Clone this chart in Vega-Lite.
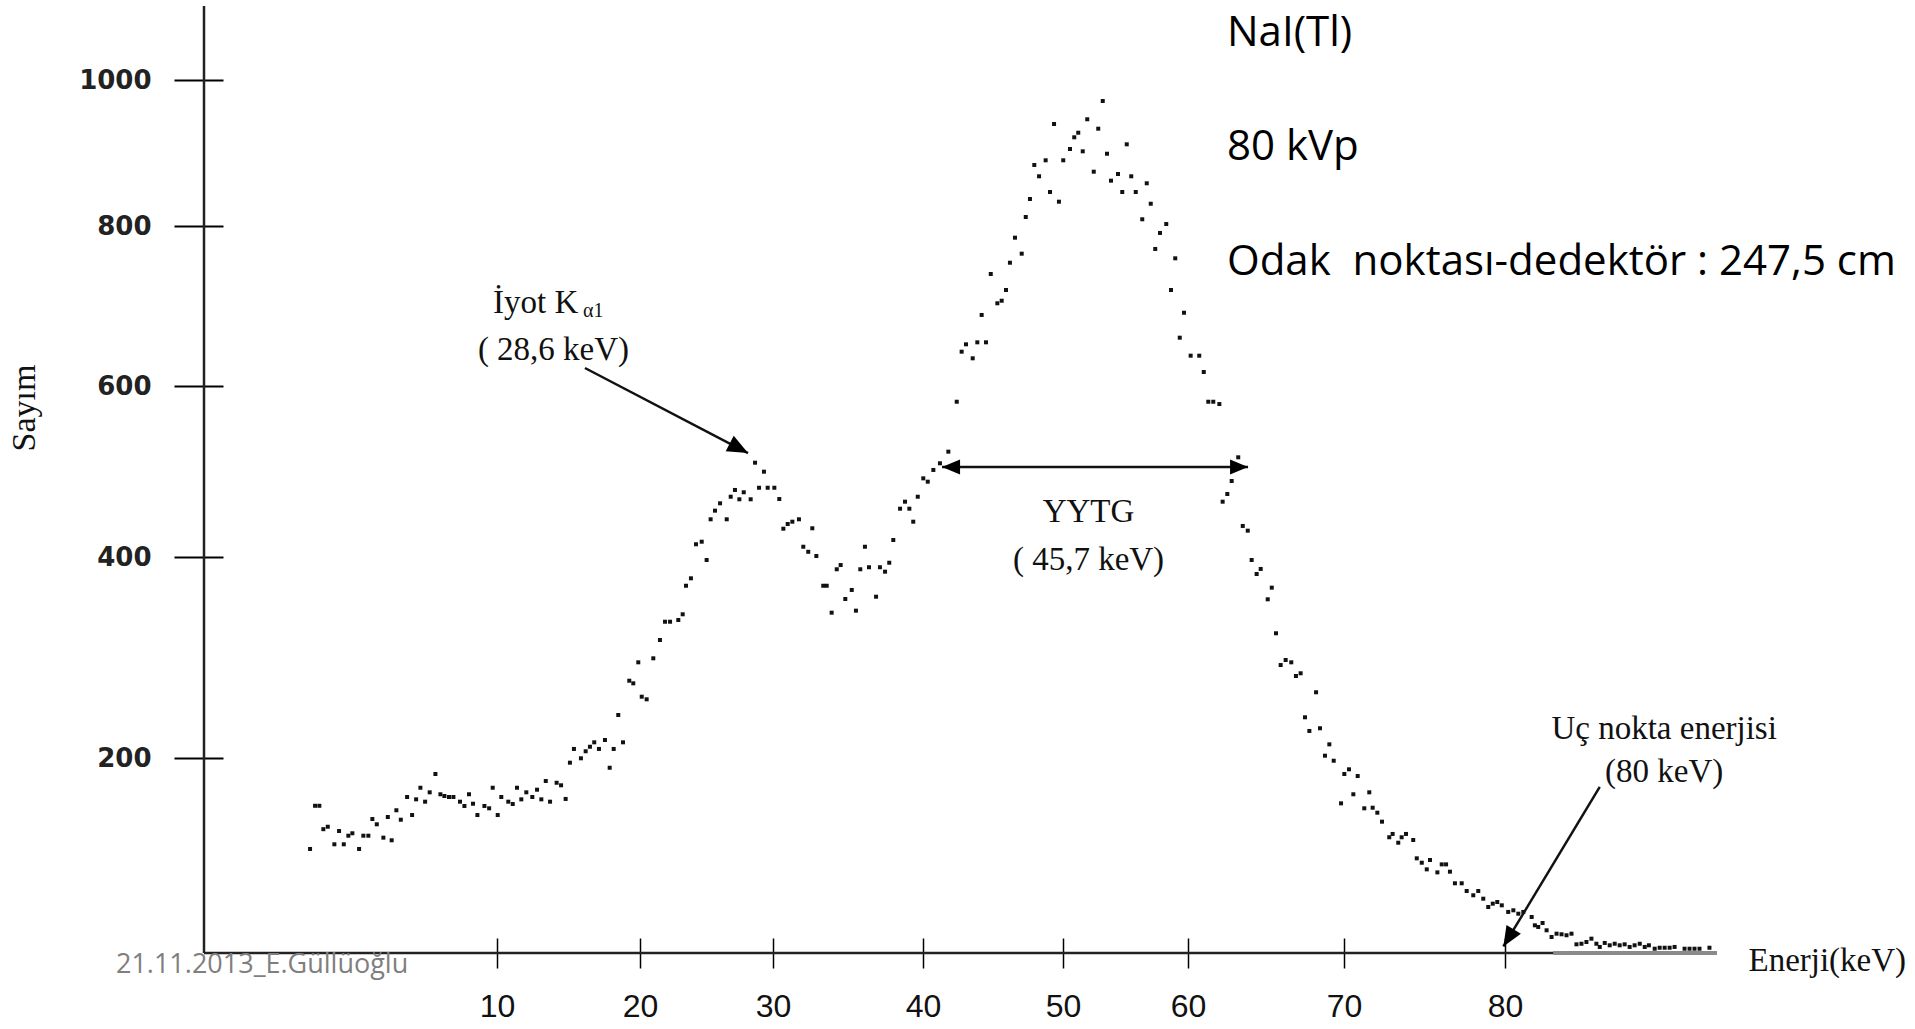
{
  "$schema": "https://vega.github.io/schema/vega-lite/v6.json",
  "width": 1513,
  "height": 947,
  "autosize": {"type": "none"},
  "padding": {"left": 204, "top": 6, "right": 198, "bottom": 76},
  "background": "white",
  "config": {"view": {"stroke": null}, "axis": {"grid": false, "domain": false, "title": null}},
  "layer": [
    {
      "data": {"values": [
        {"Enerji": -3.08, "Sayim": 106.7}, {"Enerji": -2.73, "Sayim": 151}, {"Enerji": -2.43, "Sayim": 151}, {"Enerji": -2.15, "Sayim": 127}, {"Enerji": -1.84, "Sayim": 129.5},
        {"Enerji": -1.38, "Sayim": 111.5}, {"Enerji": -1.05, "Sayim": 125.1}, {"Enerji": -0.72, "Sayim": 111.5}, {"Enerji": -0.4, "Sayim": 120.3}, {"Enerji": -0.12, "Sayim": 122.8},
        {"Enerji": 0.35, "Sayim": 106.7}, {"Enerji": 0.65, "Sayim": 120.3}, {"Enerji": 1.0, "Sayim": 120.3}, {"Enerji": 1.28, "Sayim": 137.4}, {"Enerji": 1.59, "Sayim": 132},
        {"Enerji": 2.05, "Sayim": 118.3}, {"Enerji": 2.36, "Sayim": 139.5}, {"Enerji": 2.63, "Sayim": 115.6}, {"Enerji": 2.96, "Sayim": 146.4}, {"Enerji": 3.27, "Sayim": 136.7},
        {"Enerji": 3.71, "Sayim": 160}, {"Enerji": 4.06, "Sayim": 141.5}, {"Enerji": 4.34, "Sayim": 157.6}, {"Enerji": 4.64, "Sayim": 169.5}, {"Enerji": 4.97, "Sayim": 155.2},
        {"Enerji": 5.29, "Sayim": 164.8}, {"Enerji": 5.69, "Sayim": 183.6}, {"Enerji": 6.04, "Sayim": 162.8}, {"Enerji": 6.32, "Sayim": 161}, {"Enerji": 6.64, "Sayim": 160},
        {"Enerji": 6.95, "Sayim": 160}, {"Enerji": 7.41, "Sayim": 155.2}, {"Enerji": 7.72, "Sayim": 150.8}, {"Enerji": 8.04, "Sayim": 162.8}, {"Enerji": 8.32, "Sayim": 153.1},
        {"Enerji": 8.63, "Sayim": 141.5}, {"Enerji": 9.12, "Sayim": 150.8}, {"Enerji": 9.45, "Sayim": 148.4}, {"Enerji": 9.7, "Sayim": 169.5}, {"Enerji": 10.05, "Sayim": 141.5},
        {"Enerji": 10.3, "Sayim": 160}, {"Enerji": 10.79, "Sayim": 155.2}, {"Enerji": 11.1, "Sayim": 152.8}, {"Enerji": 11.4, "Sayim": 169.5}, {"Enerji": 11.7, "Sayim": 157.6},
        {"Enerji": 12.05, "Sayim": 164.8}, {"Enerji": 12.47, "Sayim": 160}, {"Enerji": 12.8, "Sayim": 167.5}, {"Enerji": 13.1, "Sayim": 157.6}, {"Enerji": 13.41, "Sayim": 176.4},
        {"Enerji": 13.71, "Sayim": 155.2}, {"Enerji": 14.17, "Sayim": 174.6}, {"Enerji": 14.48, "Sayim": 172}, {"Enerji": 14.8, "Sayim": 158}, {"Enerji": 15.1, "Sayim": 195.2},
        {"Enerji": 15.38, "Sayim": 209}, {"Enerji": 15.87, "Sayim": 199.7}, {"Enerji": 16.2, "Sayim": 206.7}, {"Enerji": 16.5, "Sayim": 211.2}, {"Enerji": 16.8, "Sayim": 215.6},
        {"Enerji": 17.13, "Sayim": 209}, {"Enerji": 17.55, "Sayim": 217.9}, {"Enerji": 17.88, "Sayim": 190}, {"Enerji": 18.16, "Sayim": 209}, {"Enerji": 18.48, "Sayim": 242.8},
        {"Enerji": 18.81, "Sayim": 215.6}, {"Enerji": 19.25, "Sayim": 276.9}, {"Enerji": 19.53, "Sayim": 274.3}, {"Enerji": 19.88, "Sayim": 295.2}, {"Enerji": 20.13, "Sayim": 261},
        {"Enerji": 20.5, "Sayim": 258.4}, {"Enerji": 21.0, "Sayim": 299.2}, {"Enerji": 21.5, "Sayim": 317.4}, {"Enerji": 21.88, "Sayim": 335.6}, {"Enerji": 22.26, "Sayim": 335.6},
        {"Enerji": 22.88, "Sayim": 337.3}, {"Enerji": 23.21, "Sayim": 343}, {"Enerji": 23.46, "Sayim": 371.4}, {"Enerji": 23.83, "Sayim": 378.8}, {"Enerji": 24.21, "Sayim": 414.9},
        {"Enerji": 24.64, "Sayim": 417.9}, {"Enerji": 25.01, "Sayim": 397}, {"Enerji": 25.31, "Sayim": 444.1}, {"Enerji": 25.64, "Sayim": 454.2}, {"Enerji": 26.02, "Sayim": 462.8},
        {"Enerji": 26.52, "Sayim": 444.1}, {"Enerji": 26.82, "Sayim": 470.5}, {"Enerji": 27.14, "Sayim": 478.4}, {"Enerji": 27.47, "Sayim": 467.5}, {"Enerji": 27.8, "Sayim": 475.7},
        {"Enerji": 28.32, "Sayim": 467.5}, {"Enerji": 28.65, "Sayim": 510.3}, {"Enerji": 28.95, "Sayim": 481}, {"Enerji": 29.32, "Sayim": 499.8}, {"Enerji": 29.6, "Sayim": 481},
        {"Enerji": 30.09, "Sayim": 481}, {"Enerji": 30.42, "Sayim": 467.8}, {"Enerji": 30.69, "Sayim": 433.1}, {"Enerji": 30.98, "Sayim": 438.6}, {"Enerji": 31.29, "Sayim": 441.3},
        {"Enerji": 31.73, "Sayim": 444.1}, {"Enerji": 32.02, "Sayim": 412}, {"Enerji": 32.35, "Sayim": 406.1}, {"Enerji": 32.62, "Sayim": 433.6}, {"Enerji": 32.89, "Sayim": 401.2},
        {"Enerji": 33.35, "Sayim": 371.4}, {"Enerji": 33.58, "Sayim": 371.4}, {"Enerji": 33.91, "Sayim": 344.6}, {"Enerji": 34.25, "Sayim": 387.8}, {"Enerji": 34.51, "Sayim": 392},
        {"Enerji": 34.82, "Sayim": 358.2}, {"Enerji": 35.25, "Sayim": 367.2}, {"Enerji": 35.53, "Sayim": 346.6}, {"Enerji": 35.82, "Sayim": 387.8}, {"Enerji": 36.13, "Sayim": 412},
        {"Enerji": 36.4, "Sayim": 389.8}, {"Enerji": 36.87, "Sayim": 360.5}, {"Enerji": 37.13, "Sayim": 389.8}, {"Enerji": 37.47, "Sayim": 385.4}, {"Enerji": 37.75, "Sayim": 394.3},
        {"Enerji": 38.02, "Sayim": 419.9}, {"Enerji": 38.47, "Sayim": 456.5}, {"Enerji": 38.8, "Sayim": 464.7}, {"Enerji": 39.09, "Sayim": 456.5}, {"Enerji": 39.35, "Sayim": 441.3},
        {"Enerji": 39.65, "Sayim": 470.5}, {"Enerji": 40.02, "Sayim": 492}, {"Enerji": 40.34, "Sayim": 488.1}, {"Enerji": 40.74, "Sayim": 501.8}, {"Enerji": 41.21, "Sayim": 509.6},
        {"Enerji": 41.81, "Sayim": 523.2}, {"Enerji": 42.41, "Sayim": 581.6}, {"Enerji": 42.76, "Sayim": 642.9}, {"Enerji": 43.07, "Sayim": 652.1}, {"Enerji": 43.55, "Sayim": 634.6},
        {"Enerji": 43.88, "Sayim": 654.6}, {"Enerji": 44.5, "Sayim": 654.6}, {"Enerji": 44.19, "Sayim": 688.8}, {"Enerji": 44.84, "Sayim": 740}, {"Enerji": 45.31, "Sayim": 703.4},
        {"Enerji": 45.62, "Sayim": 706.6}, {"Enerji": 45.93, "Sayim": 720}, {"Enerji": 46.21, "Sayim": 754.1}, {"Enerji": 46.57, "Sayim": 785.4}, {"Enerji": 47.05, "Sayim": 765.4},
        {"Enerji": 47.34, "Sayim": 812.3}, {"Enerji": 47.64, "Sayim": 837}, {"Enerji": 47.95, "Sayim": 883.6}, {"Enerji": 48.29, "Sayim": 868.1}, {"Enerji": 48.76, "Sayim": 890},
        {"Enerji": 49.07, "Sayim": 846.6}, {"Enerji": 49.36, "Sayim": 939.7}, {"Enerji": 49.71, "Sayim": 833.3}, {"Enerji": 50.02, "Sayim": 890}, {"Enerji": 50.56, "Sayim": 905.5},
        {"Enerji": 50.9, "Sayim": 921.5}, {"Enerji": 51.22, "Sayim": 927.8}, {"Enerji": 51.58, "Sayim": 902.3}, {"Enerji": 51.94, "Sayim": 946.2}, {"Enerji": 52.46, "Sayim": 874.4},
        {"Enerji": 52.82, "Sayim": 933.3}, {"Enerji": 53.18, "Sayim": 971.2}, {"Enerji": 53.52, "Sayim": 899}, {"Enerji": 53.84, "Sayim": 862.1}, {"Enerji": 54.4, "Sayim": 871.2},
        {"Enerji": 54.74, "Sayim": 846.6}, {"Enerji": 55.1, "Sayim": 911.9}, {"Enerji": 55.46, "Sayim": 868.1}, {"Enerji": 55.82, "Sayim": 846.6}, {"Enerji": 56.34, "Sayim": 809.2},
        {"Enerji": 56.7, "Sayim": 858.5}, {"Enerji": 57.02, "Sayim": 830.5}, {"Enerji": 57.38, "Sayim": 771.3}, {"Enerji": 57.76, "Sayim": 791.3}, {"Enerji": 58.26, "Sayim": 802.7},
        {"Enerji": 58.64, "Sayim": 720}, {"Enerji": 58.98, "Sayim": 759.6}, {"Enerji": 59.34, "Sayim": 660.4}, {"Enerji": 59.68, "Sayim": 691.6}, {"Enerji": 60.17, "Sayim": 637.9},
        {"Enerji": 60.72, "Sayim": 637.9}, {"Enerji": 61.01, "Sayim": 617.5}, {"Enerji": 61.3, "Sayim": 581.6}, {"Enerji": 61.62, "Sayim": 581.6}, {"Enerji": 62.01, "Sayim": 578.9},
        {"Enerji": 62.22, "Sayim": 464.7}, {"Enerji": 62.52, "Sayim": 473.7}, {"Enerji": 62.8, "Sayim": 488.9}, {"Enerji": 63.22, "Sayim": 516.6}, {"Enerji": 63.51, "Sayim": 436.3},
        {"Enerji": 63.83, "Sayim": 430.8}, {"Enerji": 64.08, "Sayim": 397}, {"Enerji": 64.4, "Sayim": 383.1}, {"Enerji": 64.66, "Sayim": 388.1}, {"Enerji": 65.11, "Sayim": 357.9},
        {"Enerji": 65.37, "Sayim": 369.5}, {"Enerji": 65.64, "Sayim": 324.1}, {"Enerji": 65.94, "Sayim": 292.5}, {"Enerji": 66.26, "Sayim": 297.5}, {"Enerji": 66.62, "Sayim": 295.2},
        {"Enerji": 66.92, "Sayim": 281.6}, {"Enerji": 67.22, "Sayim": 284.3}, {"Enerji": 67.5, "Sayim": 240.5}, {"Enerji": 67.78, "Sayim": 226.9}, {"Enerji": 68.21, "Sayim": 265.4},
        {"Enerji": 68.46, "Sayim": 229.6}, {"Enerji": 68.78, "Sayim": 202.3}, {"Enerji": 69.06, "Sayim": 213.6}, {"Enerji": 69.34, "Sayim": 197.2}, {"Enerji": 69.81, "Sayim": 153.5},
        {"Enerji": 70.02, "Sayim": 183.6}, {"Enerji": 70.31, "Sayim": 188.4}, {"Enerji": 70.85, "Sayim": 181.5}, {"Enerji": 70.58, "Sayim": 162.8}, {"Enerji": 71.26, "Sayim": 148.4},
        {"Enerji": 71.57, "Sayim": 164.8}, {"Enerji": 71.78, "Sayim": 149}, {"Enerji": 72.07, "Sayim": 143.9}, {"Enerji": 72.36, "Sayim": 134.7}, {"Enerji": 72.81, "Sayim": 118.7},
        {"Enerji": 73.02, "Sayim": 122.1}, {"Enerji": 73.37, "Sayim": 113.1}, {"Enerji": 73.58, "Sayim": 118.7}, {"Enerji": 73.85, "Sayim": 122.1}, {"Enerji": 74.3, "Sayim": 115.9},
        {"Enerji": 74.52, "Sayim": 97.1}, {"Enerji": 74.83, "Sayim": 92.6}, {"Enerji": 75.14, "Sayim": 85.8}, {"Enerji": 75.34, "Sayim": 95.4}, {"Enerji": 75.8, "Sayim": 82.7},
        {"Enerji": 76.07, "Sayim": 90.9}, {"Enerji": 76.34, "Sayim": 90.9}, {"Enerji": 76.58, "Sayim": 83.4}, {"Enerji": 76.89, "Sayim": 71.5}, {"Enerji": 77.31, "Sayim": 71.5},
        {"Enerji": 77.62, "Sayim": 63.6}, {"Enerji": 78.03, "Sayim": 59.2}, {"Enerji": 78.34, "Sayim": 63.6}, {"Enerji": 78.65, "Sayim": 55.7}, {"Enerji": 78.96, "Sayim": 47.2},
        {"Enerji": 79.24, "Sayim": 50.6}, {"Enerji": 79.52, "Sayim": 52.3}, {"Enerji": 79.8, "Sayim": 48.9}, {"Enerji": 80.2, "Sayim": 42.1}, {"Enerji": 80.52, "Sayim": 43.8},
        {"Enerji": 80.83, "Sayim": 40.3}, {"Enerji": 81.14, "Sayim": 42.1}, {"Enerji": 81.66, "Sayim": 36.9}, {"Enerji": 81.86, "Sayim": 28.4}, {"Enerji": 82.07, "Sayim": 26.7},
        {"Enerji": 82.34, "Sayim": 30.8}, {"Enerji": 82.59, "Sayim": 23.3}, {"Enerji": 82.9, "Sayim": 16.4}, {"Enerji": 83.21, "Sayim": 19.8}, {"Enerji": 83.52, "Sayim": 19.2},
        {"Enerji": 83.83, "Sayim": 18.2}, {"Enerji": 84.14, "Sayim": 19.8}, {"Enerji": 84.45, "Sayim": 8.9}, {"Enerji": 84.76, "Sayim": 9.5}, {"Enerji": 85.07, "Sayim": 11.3},
        {"Enerji": 85.38, "Sayim": 14.7}, {"Enerji": 85.69, "Sayim": 9.5}, {"Enerji": 85.9, "Sayim": 6.2}, {"Enerji": 86.21, "Sayim": 10.3}, {"Enerji": 86.52, "Sayim": 7.9},
        {"Enerji": 86.83, "Sayim": 9.5}, {"Enerji": 87.14, "Sayim": 7.9}, {"Enerji": 87.45, "Sayim": 8.9}, {"Enerji": 87.76, "Sayim": 6.2}, {"Enerji": 88.07, "Sayim": 7.9},
        {"Enerji": 88.39, "Sayim": 9.5}, {"Enerji": 88.7, "Sayim": 6.2}, {"Enerji": 88.96, "Sayim": 7.9}, {"Enerji": 89.32, "Sayim": 4.4}, {"Enerji": 89.63, "Sayim": 5.4},
        {"Enerji": 89.94, "Sayim": 5.4}, {"Enerji": 90.25, "Sayim": 5.4}, {"Enerji": 90.56, "Sayim": 6.2}, {"Enerji": 91.18, "Sayim": 4.4}, {"Enerji": 91.49, "Sayim": 4.4},
        {"Enerji": 91.8, "Sayim": 4.4}, {"Enerji": 92.11, "Sayim": 4.4}, {"Enerji": 92.73, "Sayim": 5.4}
      ]},
      "mark": {"type": "point", "shape": "square", "filled": true, "size": 16, "color": "#111111", "opacity": 1},
      "encoding": {
        "x": {
          "field": "Enerji", "type": "quantitative",
          "scale": {"domain": [-10.5, 10, 20, 30, 40, 50, 60, 70, 80, 93.2], "range": [0, 293, 436, 569, 719, 859, 984, 1140, 1301, 1513], "nice": false, "zero": false},
          "axis": {"values": [10, 20, 30, 40, 50, 60, 70, 80], "offset": -15, "tickSize": 30, "tickWidth": 1.5, "tickColor": "#000000", "labelFont": "Liberation Sans Narrow, Liberation Sans", "labelFontSize": 32, "labelPadding": 23, "labelColor": "#111111", "labelFlush": false, "labelOverlap": false}
        },
        "y": {
          "field": "Sayim", "type": "quantitative",
          "scale": {"domain": [0, 200, 400, 600, 800, 1000, 1101], "range": [947, 752, 551, 380, 220, 74, 0], "nice": false, "zero": false},
          "axis": {"values": [200, 400, 600, 800, 1000], "format": "d", "offset": -19, "tickSize": 49, "tickWidth": 2, "tickColor": "#000000", "labelFont": "DejaVu Sans", "labelFontWeight": "bold", "labelFontSize": 26, "labelPadding": 23, "labelColor": "#222222", "labelFlush": false, "labelOverlap": false}
        }
      }
    },
    {
      "data": {"values": [{}]},
      "mark": {"type": "rule", "strokeWidth": 2.5, "color": "#222222"},
      "encoding": {"x": {"datum": -10.5}, "y": {"datum": 0}, "y2": {"datum": 1101}}
    },
    {
      "data": {"values": [{}]},
      "mark": {"type": "rule", "strokeWidth": 2.5, "color": "#222222"},
      "encoding": {"x": {"datum": -10.5}, "x2": {"datum": 93.2}, "y": {"datum": 0}}
    },
    {
      "data": {"values": [{}]},
      "mark": {"type": "rule", "strokeWidth": 4, "color": "#8a8a8a"},
      "encoding": {"x": {"datum": 83}, "x2": {"datum": 93.2}, "y": {"datum": 0}}
    },
    {
      "data": {"values": [
        {"x": 16.15, "y": 622.5, "x2": 28.12, "y2": 521.6},
        {"x": 41.36, "y": 505.3, "x2": 63.85, "y2": 505.3},
        {"x": 85.9, "y": 170.3, "x2": 79.9, "y2": 6.7}
      ]},
      "mark": {"type": "rule", "strokeWidth": 2.5, "color": "#111111"},
      "encoding": {
        "x": {"field": "x", "type": "quantitative"},
        "y": {"field": "y", "type": "quantitative"},
        "x2": {"field": "x2"},
        "y2": {"field": "y2"}
      }
    },
    {
      "data": {"values": [{"x": 28.12, "y": 521.6}]},
      "mark": {"type": "point", "shape": "M0,0L-1,-0.42L-1,0.42Z", "filled": true, "size": 1700, "color": "#000000", "opacity": 1, "angle": 27.5},
      "encoding": {"x": {"field": "x", "type": "quantitative"}, "y": {"field": "y", "type": "quantitative"}}
    },
    {
      "data": {"values": [{"x": 41.36, "y": 505.3}]},
      "mark": {"type": "point", "shape": "M0,0L-1,-0.42L-1,0.42Z", "filled": true, "size": 1300, "color": "#000000", "opacity": 1, "angle": 180},
      "encoding": {"x": {"field": "x", "type": "quantitative"}, "y": {"field": "y", "type": "quantitative"}}
    },
    {
      "data": {"values": [{"x": 63.85, "y": 505.3}]},
      "mark": {"type": "point", "shape": "M0,0L-1,-0.42L-1,0.42Z", "filled": true, "size": 1300, "color": "#000000", "opacity": 1, "angle": 0},
      "encoding": {"x": {"field": "x", "type": "quantitative"}, "y": {"field": "y", "type": "quantitative"}}
    },
    {
      "data": {"values": [{"x": 79.9, "y": 6.7}]},
      "mark": {"type": "point", "shape": "M0,0L-1,-0.42L-1,0.42Z", "filled": true, "size": 1600, "color": "#000000", "opacity": 1, "angle": 121},
      "encoding": {"x": {"field": "x", "type": "quantitative"}, "y": {"field": "y", "type": "quantitative"}}
    },
    {
      "data": {"values": [
        {"x": 62.5, "y": 1046.2, "t": "NaI(Tl)"},
        {"x": 62.5, "y": 890.4, "t": "80 kVp"},
        {"x": 62.5, "y": 738.75, "t": "Odak \u00a0noktası-dedektör : 247,5 cm"}
      ]},
      "mark": {"type": "text", "font": "Open Sans", "fontSize": 42, "align": "left", "baseline": "alphabetic", "color": "#000000"},
      "encoding": {"x": {"field": "x", "type": "quantitative"}, "y": {"field": "y", "type": "quantitative"}, "text": {"field": "t"}}
    },
    {
      "data": {"values": [
        {"x": 13.95, "y": 632.5, "t": "( 28,6 keV)"},
        {"x": 52.04, "y": 441.3, "t": "YYTG"},
        {"x": 52.04, "y": 387.1, "t": "( 45,7 keV)"},
        {"x": 89.91, "y": 218.9, "t": "Uç nokta enerjisi"},
        {"x": 89.91, "y": 175.4, "t": "(80 keV)"}
      ]},
      "mark": {"type": "text", "font": "Liberation Serif", "fontSize": 33, "align": "center", "baseline": "alphabetic", "color": "#111111"},
      "encoding": {"x": {"field": "x", "type": "quantitative"}, "y": {"field": "y", "type": "quantitative"}, "text": {"field": "t"}}
    },
    {
      "data": {"values": [
        {"x": 9.72, "y": 691.6, "t": "İyot K"},
        {"x": 95.16, "y": -18.5, "t": "Enerji(keV)"}
      ]},
      "mark": {"type": "text", "font": "Liberation Serif", "fontSize": 33, "align": "left", "baseline": "alphabetic", "color": "#111111"},
      "encoding": {"x": {"field": "x", "type": "quantitative"}, "y": {"field": "y", "type": "quantitative"}, "text": {"field": "t"}}
    },
    {
      "data": {"values": [{"x": 16.01, "y": 685.9, "t": "α1"}]},
      "mark": {"type": "text", "font": "Liberation Serif", "fontSize": 20, "align": "left", "baseline": "alphabetic", "color": "#111111"},
      "encoding": {"x": {"field": "x", "type": "quantitative"}, "y": {"field": "y", "type": "quantitative"}, "text": {"field": "t"}}
    },
    {
      "data": {"values": [{"x": -23.0, "y": 574.3, "t": "Sayım"}]},
      "mark": {"type": "text", "font": "Liberation Serif", "fontSize": 34, "align": "center", "baseline": "middle", "angle": 270, "color": "#111111"},
      "encoding": {"x": {"field": "x", "type": "quantitative"}, "y": {"field": "y", "type": "quantitative"}, "text": {"field": "t"}}
    },
    {
      "data": {"values": [{"x": -16.66, "y": -20.5, "t": "21.11.2013_E.Güllüoğlu"}]},
      "mark": {"type": "text", "font": "Open Sans", "fontSize": 27, "align": "left", "baseline": "alphabetic", "color": "#7f7f7f"},
      "encoding": {"x": {"field": "x", "type": "quantitative"}, "y": {"field": "y", "type": "quantitative"}, "text": {"field": "t"}}
    }
  ]
}
